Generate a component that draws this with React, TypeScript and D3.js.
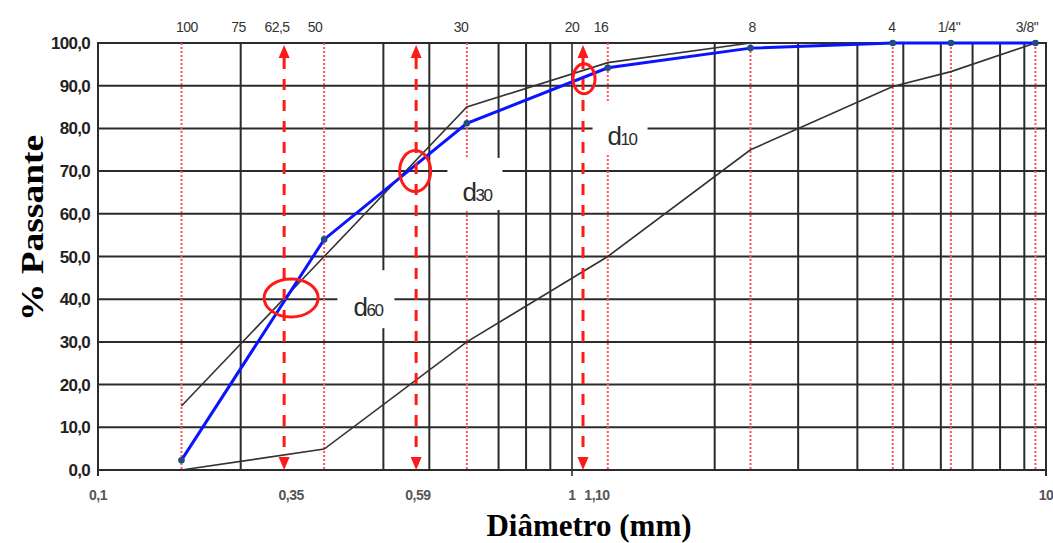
import React from "react";
import * as d3 from "d3";

// ---- data ----
const sieveMm = [0.15, 0.3, 0.6, 1.19, 2.38, 4.75, 6.3, 9.5];
const amostra = [2.3, 54, 81.2, 94.2, 98.8, 100, 100, 100];
const limiteSuperior = [15, 50, 85, 95.4, 100, 100, 100, 100];
const limiteInferior = [0, 4.9, 30, 50, 75, 89.8, 93.3, 100];

const yTicks = [0, 10, 20, 30, 40, 50, 60, 70, 80, 90, 100];
const topLabelPos = [0.154, 0.198, 0.2386, 0.287, 0.583, 1.0, 1.151, 2.398, 4.73, 6.24, 9.12];
const topLabels = ["100", "75", "62,5", "50", "30", "20", "16", "8", "4", "1/4\"", "3/8\""];
const bottomLabelPos = [0.1, 0.2555, 0.473, 1, 1.129, 10];
const bottomLabels = ["0,1", "0,35", "0,59", "1", "1,10", "10"];

// d60, d30, d10 annotations
const dNames = ["60", "30", "10"];
const dDiam = [0.247, 0.469, 1.055];
const dPass = [40.3, 70, 91.6];
const dBoxDiam = [0.3675, 0.624, 1.263];
const dBoxPass = [40, 67, 80];

const W = 1053;
const H = 543;

export default function App() {
  const x = d3.scaleLog().domain([0.1, 10]).range([98, 1046]);
  const y = d3.scaleLinear().domain([0, 100]).range([470, 43]);

  const gridVals: number[] = [];
  for (let d = 0.1; d < 10; d *= 10) {
    for (let k = 1; k <= 9; k++) gridVals.push(+(d * k).toFixed(3));
  }
  gridVals.push(10);
  const blackGrid = gridVals.filter((v) => v !== 0.3 && v !== 0.6);

  const line = d3
    .line<[number, number]>()
    .x((d) => x(d[0]))
    .y((d) => y(d[1]));
  const mk = (vals: number[]) => sieveMm.map((m, i) => [m, vals[i]] as [number, number]);

  const ellR = [
    [27, 19, 7],
    [15.5, 20.5, -1],
    [11, 15, 1],
  ];
  const boxSize = [
    [57, 58],
    [55, 52],
    [55, 51],
  ];

  const red = "#ff1a1a";
  const gridCol = "#2b2b2b";

  return (
    <svg
      width={W}
      height={H}
      style={{ position: "absolute", left: 0, top: 0, background: "#fff" }}
      fontFamily="'Liberation Sans', Arial, sans-serif"
    >
      <rect x={0} y={0} width={W} height={H} fill="#fff" />
      {/* horizontal grid */}
      {yTicks.map((t) => (
        <line key={"h" + t} x1={x(0.1) - 1} x2={x(10) + 1} y1={y(t)} y2={y(t)} stroke={gridCol} strokeWidth={2} />
      ))}
      {/* vertical grid */}
      {blackGrid.map((v) => (
        <line
          key={"v" + v}
          x1={x(v)}
          x2={x(v)}
          y1={y(100)}
          y2={v === 0.1 || v === 1 || v === 10 ? y(0) + 6 : y(0)}
          stroke={gridCol}
          strokeWidth={v === 1 ? 1.6 : 2}
        />
      ))}
      {/* sieve red dotted lines */}
      {sieveMm.map((m) => (
        <line key={"s" + m} x1={x(m)} x2={x(m)} y1={y(100)} y2={y(0)} stroke="#ff5555" strokeWidth={2} strokeDasharray="2,2" />
      ))}
      {/* white label boxes */}
      {dNames.map((n, i) => (
        <rect
          key={"b" + n}
          x={x(dBoxDiam[i]) - boxSize[i][0] / 2}
          y={y(dBoxPass[i]) - boxSize[i][1] / 2}
          width={boxSize[i][0]}
          height={boxSize[i][1]}
          fill="#fff"
        />
      ))}
      {/* curves */}
      <path d={line(mk(limiteSuperior)) || ""} fill="none" stroke="#333" strokeWidth={1.6} />
      <path d={line(mk(limiteInferior)) || ""} fill="none" stroke="#333" strokeWidth={1.6} />
      <path d={line(mk(amostra)) || ""} fill="none" stroke="#0a14ff" strokeWidth={3} />
      {sieveMm.map((m, i) => (
        <circle key={"p" + m} cx={x(m)} cy={y(amostra[i])} r={3.3} fill="#1b4f86" />
      ))}
      {/* arrows */}
      {dDiam.map((v, i) => {
        const cx = x(v);
        return (
          <g key={"a" + i}>
            <line x1={cx} x2={cx} y1={58} y2={458} stroke={red} strokeWidth={3} strokeDasharray="11,10" />
            <path d={`M${cx},45 L${cx - 5.5},58 L${cx + 5.5},58 Z`} fill={red} />
            <path d={`M${cx},470 L${cx - 5.5},457 L${cx + 5.5},457 Z`} fill={red} />
          </g>
        );
      })}
      {/* ellipses */}
      {dDiam.map((v, i) => (
        <ellipse
          key={"e" + i}
          cx={x(v) + ellR[i][2]}
          cy={y(dPass[i])}
          rx={ellR[i][0]}
          ry={ellR[i][1]}
          fill="none"
          stroke={red}
          strokeWidth={3}
        />
      ))}
      {/* d labels */}
      {dNames.map((n, i) => (
        <text
          key={"t" + n}
          x={x(dBoxDiam[i]) + 2}
          y={y(dBoxPass[i]) + 17}
          textAnchor="middle"
          fill="#2a2a2a"
          fontSize={26}
          letterSpacing={-1.5}
        >
          d<tspan fontSize={17}>{n}</tspan>
        </text>
      ))}
      {/* y tick labels */}
      {yTicks.map((t) => (
        <text key={"yl" + t} x={90} y={y(t) + 6} textAnchor="end" fontSize={17} fontWeight="bold" fill="#222" letterSpacing={-0.7}>
          {t.toFixed(1).replace(".", ",")}
        </text>
      ))}
      {/* top labels */}
      {topLabels.map((l, i) => (
        <text key={"tl" + i} x={x(topLabelPos[i])} y={32} textAnchor="middle" fontSize={14} fill="#333" letterSpacing={-0.5}>
          {l}
        </text>
      ))}
      {/* bottom labels */}
      {bottomLabels.map((l, i) => (
        <text key={"bl" + i} x={x(bottomLabelPos[i])} y={500} textAnchor="middle" fontSize={14} fontWeight="bold" fill="#555" letterSpacing={-0.5}>
          {l}
        </text>
      ))}
      {/* axis titles */}
      <text x={589} y={536} textAnchor="middle" fontFamily="'Liberation Serif', 'Times New Roman', serif" fontWeight="bold" fontSize={31} fill="#000">
        Diâmetro (mm)
      </text>
      <text
        transform="translate(43,228) rotate(-90)"
        textAnchor="middle"
        fontFamily="'Liberation Serif', 'Times New Roman', serif"
        fontWeight="bold"
        fontSize={32}
        fill="#000"
        textLength={186}
        lengthAdjust="spacingAndGlyphs"
      >
        % Passante
      </text>
    </svg>
  );
}
